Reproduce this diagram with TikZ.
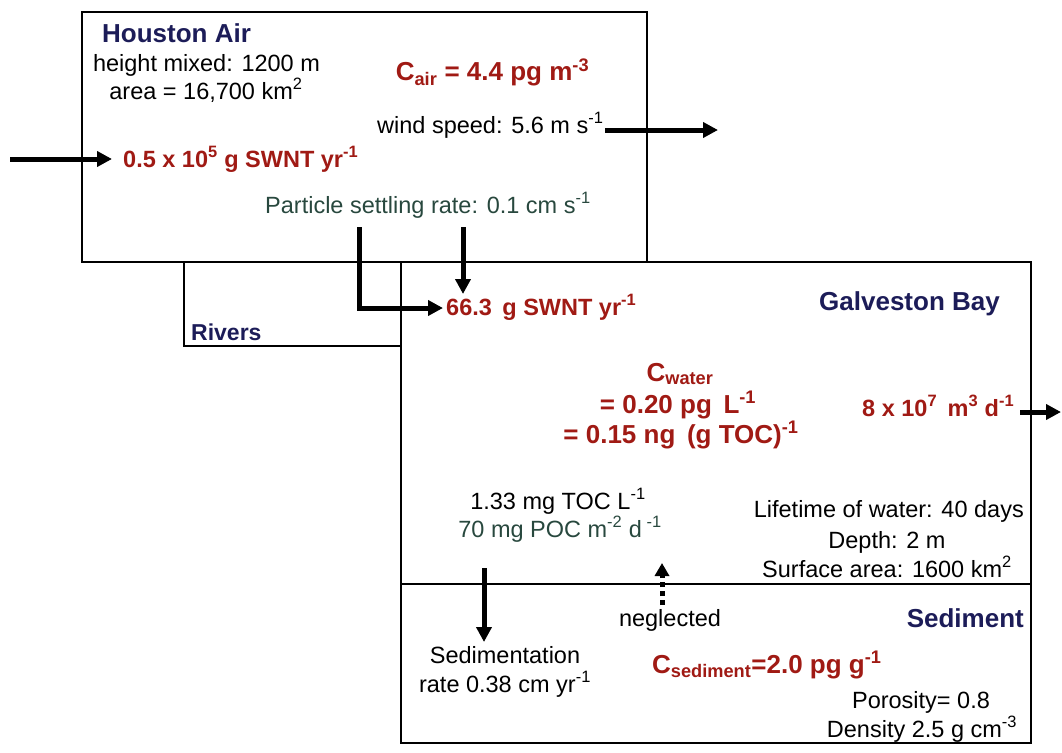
\documentclass[tikz,border=0pt]{standalone}
\usepackage{fontspec}
\setmainfont{Liberation Sans}
\usetikzlibrary{arrows.meta}
\definecolor{dred}{RGB}{160,26,20}
\definecolor{navy}{RGB}{28,28,88}
\definecolor{slate}{RGB}{40,72,62}
\tikzset{
 txt/.style={inner sep=0pt, text height=16pt, text depth=5pt, font=\fontsize{23.5}{27}\selectfont},
 btxt/.style={txt, font=\fontsize{23.5}{27}\selectfont\bfseries, text=dred},
 ctxt/.style={txt, font=\fontsize{26}{30}\selectfont\bfseries, text=dred},
 ttl/.style={txt, font=\fontsize{26}{30}\selectfont\bfseries, text=navy},
 rtxt/.style={txt, font=\fontsize{23}{27}\selectfont\bfseries, text=navy},
 gtxt/.style={txt, text=slate},
 box/.style={draw, line width=1.5pt},
 arr/.style={line width=5pt, -{Triangle[length=15pt,width=15pt]}},
 darr/.style={line width=5pt, dash pattern=on 5pt off 4pt, -{Triangle[length=13pt,width=14pt]}},
}
\newcommand{\sups}[1]{\textsuperscript{#1}}
\newcommand{\subs}[1]{\textsubscript{#1}}
\begin{document}
\begin{tikzpicture}[x=1pt,y=-1pt]
\useasboundingbox (0,0) rectangle (1062,752);
% boxes
\draw[box] (82,12) rectangle (647,262);
\draw[box] (184,262) rectangle (401,346);
\draw[box] (401,262) rectangle (1031,743);
\draw[box] (401,584) -- (1031,584);
% Houston Air
\node[ttl,anchor=base west] (hta) at (102,42) {Houston Air};
\node[txt,anchor=base] (hgt) at (206.5,71) {height mixed: 1200 m};
\node[txt,anchor=base] (area) at (206,99) {area = 16,700 km\sups{2}};
\node[ctxt,anchor=base] (cair) at (492.5,81) {C\subs{air} = 4.4 pg m\sups{-3}};
\node[txt,anchor=base west] (wind) at (377,133) {wind speed: 5.6 m s\sups{-1}};
\node[btxt,anchor=base west] (inflow) at (123,167) {0.5 x 10\sups{5} g SWNT yr\sups{-1}};
\node[gtxt,anchor=base west] (part) at (265,213) {Particle settling rate: 0.1 cm s\sups{-1}};
\coordinate (inS) at (10,159);
\coordinate (inE) at (112,159);
\coordinate (windS) at (605,130);
\coordinate (windE) at (718,130);
\draw[arr] (inS) -- (inE);
\draw[arr] (windS) -- (windE);
% rivers / deposition
\node[rtxt,anchor=base west] (riv) at (191,340) {Rivers};
\node[btxt,anchor=base west] (f66) at (446,315) {66.3\, g SWNT yr\sups{-1}};
\coordinate (p1) at (359,227);
\coordinate (p1e) at (443,308);
\coordinate (p2) at (463,227);
\coordinate (p2e) at (463,294);
\draw[arr] (p1) |- (p1e);
\draw[arr] (p2) -- (p2e);
% Galveston Bay
\node[ttl,anchor=base east] (gb) at (1000,310) {Galveston Bay};
\node[ctxt,anchor=base] (cw1) at (680,381) {C\subs{water}};
\node[ctxt,anchor=base] (cw2) at (678,413) {= 0.20 pg\, L\sups{-1}};
\node[ctxt,anchor=base] (cw3) at (681,443) {= 0.15 ng\, (g TOC)\sups{-1}};
\node[btxt,anchor=base west] (outf) at (862,416) {8 x 10\sups{7}\, m\sups{3} d\sups{-1}};
\coordinate (outS) at (1020,412);
\coordinate (outE) at (1061,412);
\draw[arr] (outS) -- (outE);
\node[txt,anchor=base] (toc) at (558,509) {1.33 mg TOC L\sups{-1}};
\node[gtxt,anchor=base] (poc) at (560,537) {70 mg POC m\sups{-2} d\sups{ -1}};
\node[txt,anchor=base east] (life) at (1024,517) {Lifetime of water: 40 days};
\node[txt,anchor=base] (depth) at (887,548) {Depth: 2 m};
\node[txt,anchor=base east] (surf) at (1012,577) {Surface area: 1600 km\sups{2}};
% Sediment
\node[ttl,anchor=base east] (sed) at (1024,627) {Sediment};
\node[txt,anchor=base] (negl) at (670,626) {neglected};
\node[txt,anchor=base] (sr1) at (505,663) {Sedimentation};
\node[txt,anchor=base] (sr2) at (505,692) {rate 0.38 cm yr\sups{-1}};
\node[ctxt,anchor=base west] (csed) at (652,673) {C\subs{sediment}=2.0 pg g\sups{-1}};
\node[txt,anchor=base] (por) at (921,708) {Porosity= 0.8};
\node[txt,anchor=base] (dens) at (922,737) {Density 2.5 g cm\sups{-3}};
\coordinate (sdS) at (484,568);
\coordinate (sdE) at (484,642);
\draw[arr] (sdS) -- (sdE);
\coordinate (ngS) at (662,605);
\coordinate (ngE) at (662,563);
\draw[darr] (ngS) -- (ngE);
\end{tikzpicture}
\end{document}
